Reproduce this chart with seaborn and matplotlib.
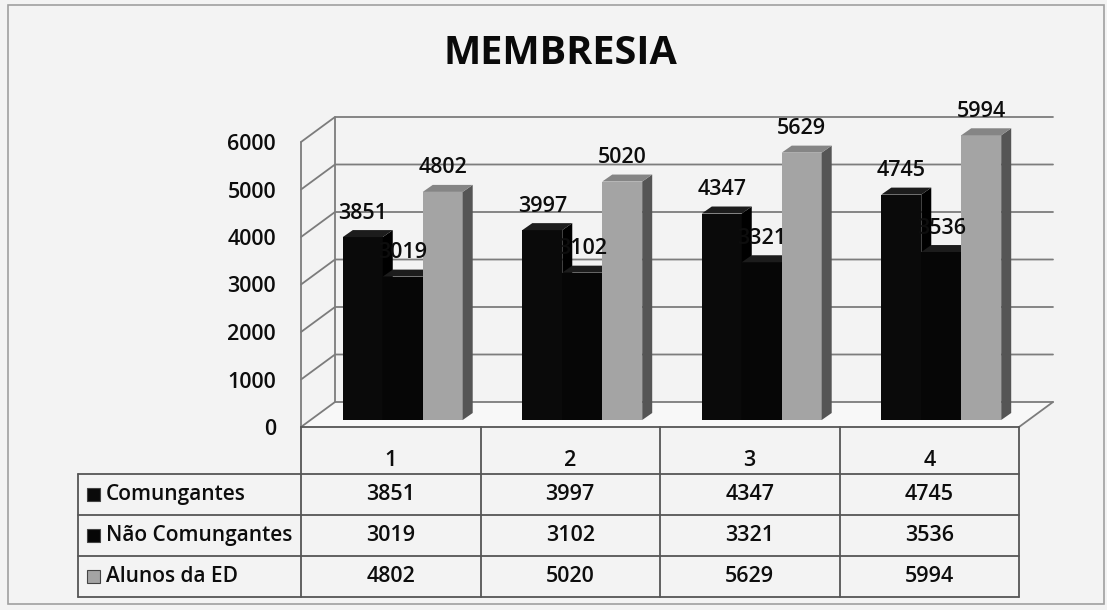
import numpy as np
import pandas as pd
import matplotlib
matplotlib.use("Agg")
import matplotlib.pyplot as plt
import seaborn as sns
from matplotlib.transforms import ScaledTranslation, IdentityTransform
from matplotlib.patches import Polygon, Rectangle
from matplotlib.lines import Line2D

# ---------------- data ----------------
title = "MEMBRESIA"
categories = ["1", "2", "3", "4"]
series = ["Comungantes", "Não Comungantes", "Alunos da ED"]
comungantes = [3851, 3997, 4347, 4745]
nao_comungantes = [3019, 3102, 3321, 3536]
alunos_ed = [4802, 5020, 5629, 5994]
yticks = [0, 1000, 2000, 3000, 4000, 5000, 6000]

values = {"Comungantes": comungantes,
          "Não Comungantes": nao_comungantes,
          "Alunos da ED": alunos_ed}
df = pd.DataFrame([(c, s, values[s][i]) for s in series for i, c in enumerate(categories)],
                  columns=["Categoria", "Série", "Valor"])

# ---------------- style ----------------
W, H = 1107, 610
sns.set_theme(style="white")
plt.rcParams["font.family"] = ["Open Sans", "DejaVu Sans"]
BG = "#f3f3f3"
GRID = "#7c7c7c"
FS = 15.5
FW = "semibold"
TXT = "#0d0d0d"
front_col = {"Comungantes": "#0a0a0a", "Não Comungantes": "#060606", "Alunos da ED": "#a4a4a4"}
side_col = {"Comungantes": "#000000", "Não Comungantes": "#000000", "Alunos da ED": "#555555"}
top_col = {"Comungantes": "#1c1c1c", "Não Comungantes": "#1c1c1c", "Alunos da ED": "#858585"}

fig = plt.figure(figsize=(W / 100, H / 100), dpi=100, facecolor=BG)
ax_o = fig.add_axes([0, 0, 1, 1], zorder=0)
ax_o.set_xlim(0, W)
ax_o.set_ylim(H, 0)
ax_o.axis("off")
ax_o.patch.set_alpha(0)

# front plane of the plot: x 301..1019 px, y 427 (0) .. 142 (6000)
ax = fig.add_axes([301 / W, (H - 427) / H, 718 / W, 285 / H], zorder=1)
ax.patch.set_alpha(0)

sns.barplot(data=df, x="Categoria", y="Valor", hue="Série", order=categories,
            hue_order=series, palette=front_col, width=0.668, saturation=1,
            errorbar=None, legend=False, linewidth=0, ax=ax)
ax.set_xlim(-0.5, len(categories) - 0.5)
ax.set_ylim(0, 6000)
ax.set_xticks([])
ax.set_xlabel("")
ax.set_ylabel("")
ax.set_yticks(yticks)
ax.set_yticklabels([str(t) for t in yticks])
ax.tick_params(axis="y", length=0, pad=18, labelsize=FS, colors=TXT)
for lbl in ax.get_yticklabels():
    lbl.set_fontweight(FW)
for s in ax.spines.values():
    s.set_visible(False)

# ------------- helpers (display px, y-down) -------------
def to_px(x, y):
    d = ax.transData.transform((x, y))
    return d[0], H - d[1]

DEPTH = (34, -25)   # floor/wall depth vector (px, y-down)
SHIFT = (12, -7)    # bars sit inside the depth
BDEP = (10, -7)     # bar depth

x_lo, x_hi = -0.5, len(categories) - 0.5

def oline(xs, ys, **kw):
    ax_o.add_line(Line2D(xs, ys, color=GRID, lw=1.3, zorder=1, **kw))

# floor fill
f0 = to_px(x_lo, 0); f1 = to_px(x_hi, 0)
ax_o.add_patch(Polygon([f0, f1, (f1[0] + DEPTH[0], f1[1] + DEPTH[1]),
                        (f0[0] + DEPTH[0], f0[1] + DEPTH[1])],
                       closed=True, facecolor="#f8f8f8", edgecolor="none", zorder=0.5))

# gridlines on left wall and back wall
for t in yticks:
    fx, fy = to_px(x_lo, t)
    bx, by = fx + DEPTH[0], fy + DEPTH[1]
    rx, _ = to_px(x_hi, t)
    rx += DEPTH[0]
    oline([fx, bx, rx], [fy, by, by])
a0 = to_px(x_lo, 0); a1 = to_px(x_lo, 6000)
oline([a0[0], a1[0]], [a0[1], a1[1]])
oline([a0[0] + DEPTH[0], a1[0] + DEPTH[0]], [a0[1] + DEPTH[1], a1[1] + DEPTH[1]])
r0 = to_px(x_hi, 0)
oline([r0[0], r0[0] + DEPTH[0]], [r0[1], r0[1] + DEPTH[1]])

# ------------- 3D bars -------------
shift_tr = ax.transData + ScaledTranslation(SHIFT[0] / 100, -SHIFT[1] / 100, fig.dpi_scale_trans)
bars = sorted(ax.patches, key=lambda p: p.get_x())
col_to_series = {matplotlib.colors.to_hex(v): k for k, v in front_col.items()}

def d(px, py):
    return (px, H - py)

for i, p in enumerate(bars):
    x0, w, h = p.get_x(), p.get_width(), p.get_height()
    fc = matplotlib.colors.to_hex(p.get_facecolor())
    sname = col_to_series.get(fc, "Comungantes")
    z = 3 + i * 0.01
    p.set_transform(shift_tr)
    p.set_zorder(z)
    p.set_clip_on(False)
    X0, Yb = to_px(x0, 0)
    X1, Yt = to_px(x0 + w, h)
    X0 += SHIFT[0]; X1 += SHIFT[0]; Yb += SHIFT[1]; Yt += SHIFT[1]
    side = Polygon([d(X1, Yb), d(X1 + BDEP[0], Yb + BDEP[1]), d(X1 + BDEP[0], Yt + BDEP[1]), d(X1, Yt)],
                   closed=True, facecolor=side_col[sname], edgecolor="none",
                   transform=IdentityTransform(), zorder=z + 0.001, clip_on=False)
    top = Polygon([d(X0, Yt), d(X1, Yt), d(X1 + BDEP[0], Yt + BDEP[1]), d(X0 + BDEP[0], Yt + BDEP[1])],
                  closed=True, facecolor=top_col[sname], edgecolor="none",
                  transform=IdentityTransform(), zorder=z + 0.002, clip_on=False)
    ax.add_patch(side)
    ax.add_patch(top)
    ax.annotate(f"{int(round(h))}", xy=(x0 + w / 2, h), xytext=(SHIFT[0], -SHIFT[1] + 24),
                textcoords="offset pixels", ha="center", va="center", fontsize=FS,
                fontweight=FW, color=TXT, zorder=10, annotation_clip=False)

# ------------- data table -------------
row_y = [427, 474, 515, 556, 597]
tab_left = 78
col_edges = [to_px(x_lo + k, 0)[0] for k in range(len(categories) + 1)]
LC = "#555555"
ax_o.add_line(Line2D([col_edges[0], col_edges[-1]], [row_y[0], row_y[0]], color=LC, lw=1.3, zorder=2))
for yy in row_y[1:]:
    ax_o.add_line(Line2D([tab_left, col_edges[-1]], [yy, yy], color=LC, lw=1.3, zorder=2))
for xx in col_edges:
    ax_o.add_line(Line2D([xx, xx], [row_y[0], row_y[-1]], color=LC, lw=1.3, zorder=2))
ax_o.add_line(Line2D([tab_left, tab_left], [row_y[1], row_y[-1]], color=LC, lw=1.3, zorder=2))

for k, c in enumerate(categories):
    cx = (col_edges[k] + col_edges[k + 1]) / 2
    ax_o.text(cx, 460, c, ha="center", va="center", fontsize=FS, fontweight=FW, color=TXT)
for r, s in enumerate(series):
    cy = (row_y[r + 1] + row_y[r + 2]) / 2
    ax_o.add_patch(Rectangle((87, cy - 6.5), 13, 13, facecolor=front_col[s],
                             edgecolor="#444444", lw=0.8, zorder=3))
    ax_o.text(106, cy, s, ha="left", va="center", fontsize=15, fontweight=FW, color=TXT)
    for k in range(len(categories)):
        cx = (col_edges[k] + col_edges[k + 1]) / 2
        ax_o.text(cx, cy, str(values[s][k]), ha="center", va="center",
                  fontsize=FS, fontweight=FW, color=TXT)

# title and outer border
ax_o.text(560, 53, title, ha="center", va="center", fontsize=28.5, fontweight="bold", color="#0a0a0a")
ax_o.add_patch(Rectangle((8, 5), 1096, 599, facecolor="none", edgecolor="#a0a0a0", lw=1.2, zorder=0.2))

fig.savefig("out.png", dpi=100, facecolor=BG)
